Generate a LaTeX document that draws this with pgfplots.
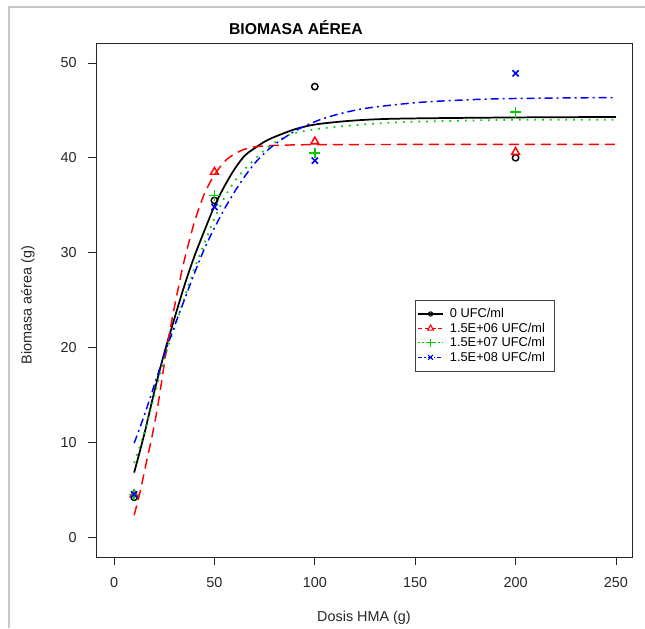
\documentclass[border=0pt]{standalone}
\usepackage{pgfplots}
\pgfplotsset{compat=1.18}
\usepackage{fontspec}
\setmainfont{Liberation Sans}
\definecolor{rgreen}{RGB}{0,205,0}
\definecolor{frame}{RGB}{200,200,200}
\begin{document}
\begin{tikzpicture}
\useasboundingbox (0,0) rectangle (483.75pt,471pt);
\draw[frame, line width=1.3pt] (6.75pt,0pt) -- (6.75pt,465.75pt) -- (483.75pt,465.75pt);
\node[font=\fontsize{11.8}{13}\selectfont\bfseries] at (222pt,450pt) {BIOMASA AÉREA};
\begin{axis}[
  at={(72pt,53.25pt)}, anchor=south west,
  scale only axis, width=402pt, height=385.5pt,
  xmin=-9, xmax=258, ymin=-2.1, ymax=52.1,
  xtick={0,50,...,250}, ytick={0,10,...,50},
  tick pos=left, tick align=outside,
  major tick length=6pt,
  axis line style={black!85, line width=0.6pt},
  every tick/.style={black!85, line width=0.6pt},
  /pgf/number format/assume math mode=true,
  ticklabel style={font=\fontsize{10.8}{12}\selectfont, text=black!85},
  xticklabel style={yshift=-6pt},
  yticklabel style={xshift=-5pt},
  xlabel={Dosis HMA (g)},
  ylabel={Biomasa aérea (g)},
  label style={font=\fontsize{10.8}{12}\selectfont, text=black!85},
  xlabel style={at={(axis description cs:0.5,-0.119)}, anchor=center},
  ylabel style={at={(axis description cs:-0.127,0.49)}, anchor=center, rotate=0},
  legend style={at={(rel axis cs:0.595,0.5)}, anchor=north west,
    font=\fontsize{9.6}{10}\selectfont, draw=black!75, line width=0.5pt,
    row sep=-1.6pt, inner xsep=2pt, inner ysep=4pt, cells={anchor=west},
    nodes={inner xsep=5pt}},
  legend cell align=left,
  legend image code/.code={\draw[mark repeat=2,mark phase=2] plot coordinates {(0cm,0cm) (0.32cm,0cm) (0.64cm,0cm)};},
]
% fitted curves
\addplot[black, line width=1.3pt, smooth, forget plot] coordinates {
(10,6.8) (15,10.8) (20,15.3) (25,19.4) (30,23.0) (35,26.5) (40,29.6) (45,32.3) (50,34.9) (55,37.0) (60,38.8) (65,40.2) (70,41.0) (75,41.7) (80,42.2) (90,43.0) (100,43.5) (115,43.85) (130,44.05) (150,44.15) (200,44.25) (250,44.3)};
\addplot[red, line width=1.1pt, dash pattern=on 7.5pt off 4.5pt, smooth, forget plot] coordinates {
(10,2.3) (13,4.8) (16,7.8) (19,10.7) (22,14.1) (26,19.6) (29,23.1) (32,26.3) (35,29.2) (40,33.2) (45,36.2) (50,38.2) (55,39.6) (60,40.4) (65,40.9) (70,41.15) (80,41.3) (100,41.38) (150,41.4) (250,41.4)};
\addplot[rgreen, line width=1.3pt, dash pattern=on 1.3pt off 4.5pt, smooth, forget plot] coordinates {
(10,7.8) (15,11.0) (20,14.8) (25,18.8) (30,22.0) (35,25.2) (40,28.3) (45,31.0) (50,33.6) (55,35.8) (60,37.5) (66,39.0) (75,40.8) (83,42.0) (90,42.6) (100,43.0) (113,43.3) (130,43.6) (150,43.8) (200,44.0) (250,44.0)};
\addplot[blue, line width=1.1pt, dash pattern=on 6pt off 3pt on 1.5pt off 3pt, smooth, forget plot] coordinates {
(10,9.9) (15,12.8) (20,16.0) (25,19.2) (30,22.2) (35,25.0) (40,27.8) (45,30.4) (50,32.6) (55,34.6) (60,36.4) (65,38.0) (70,39.4) (75,40.5) (80,41.4) (90,42.8) (100,43.8) (110,44.5) (125,45.2) (150,45.8) (175,46.1) (200,46.25) (250,46.35)};
% observed data
\addplot[black, only marks, mark=o, mark size=2.4pt, line width=1.1pt, forget plot] coordinates {(10,4.2) (50,35.5) (100,47.5) (200,40.0)};
\addplot[red, only marks, mark=triangle, mark size=3.4pt, line width=1.1pt, forget plot] coordinates {(10,4.5) (50,38.5) (100,41.7) (200,40.6)};
\addplot[rgreen, only marks, mark=+, mark size=4pt, line width=1.2pt, forget plot] coordinates {(10,4.5) (50,36.0) (100,40.5) (200,44.8)};
\addplot[blue, only marks, mark=x, mark size=3.3pt, line width=1.2pt, forget plot] coordinates {(10,4.5) (50,34.8) (100,39.7) (200,48.9)};
% legend
\addlegendimage{black, line width=0.8pt, mark=o, mark size=1.6pt}
\addlegendentry{0 UFC/ml}
\addlegendimage{red, line width=0.8pt, dash pattern=on 3pt off 2pt, mark=triangle, mark size=2.6pt, mark options={solid}}
\addlegendentry{1.5E+06 UFC/ml}
\addlegendimage{rgreen, line width=0.8pt, dash pattern=on 1pt off 2pt, mark=+, mark size=3pt, mark options={solid}}
\addlegendentry{1.5E+07 UFC/ml}
\addlegendimage{blue, line width=0.8pt, dash pattern=on 3pt off 1.5pt on 1pt off 1.5pt, mark=x, mark size=2.6pt, mark options={solid}}
\addlegendentry{1.5E+08 UFC/ml}
\end{axis}
\end{tikzpicture}
\end{document}
